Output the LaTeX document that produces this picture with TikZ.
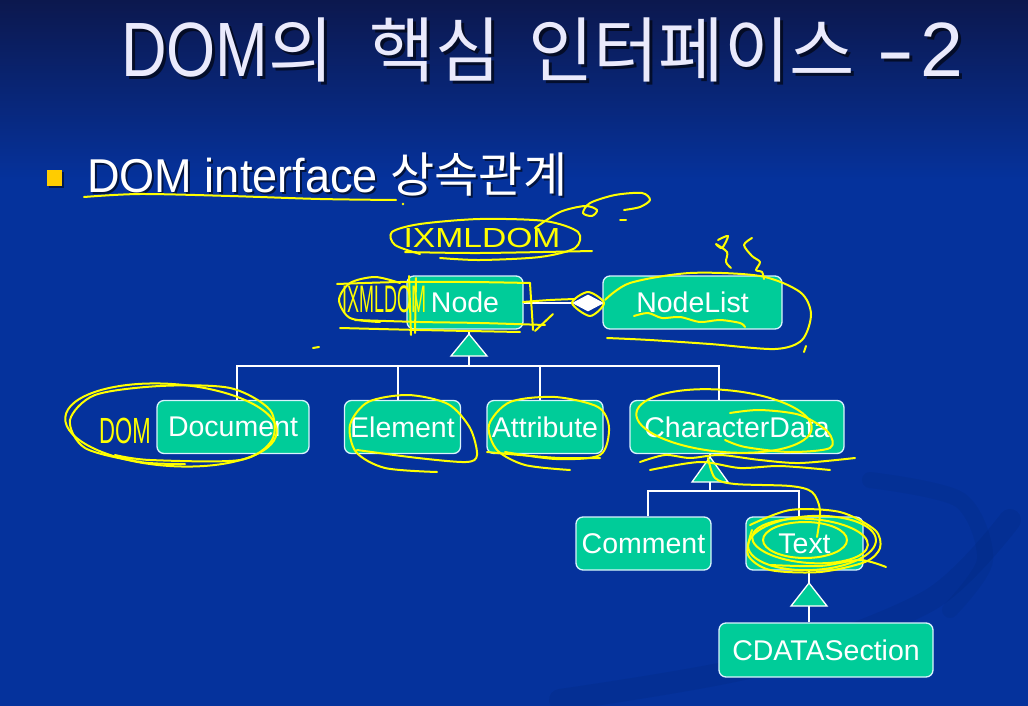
\documentclass[tikz,border=0pt]{standalone}
\usepackage{fontspec}
\setmainfont{Liberation Sans}
\newfontfamily\krfont{Noto Sans CJK KR}
\newfontfamily\narrowsans[FakeStretch=0.82]{Liberation Sans}
\newfontfamily\bulletsans[FakeStretch=0.95]{Liberation Sans}
\usetikzlibrary{shapes.geometric,calc}

\definecolor{bgtop}{RGB}{12,24,78}
\definecolor{bgbody}{RGB}{5,50,156}
\definecolor{boxgreen}{RGB}{0,204,153}
\definecolor{titlecol}{RGB}{234,234,252}
\definecolor{bulletcol}{RGB}{255,204,0}
\definecolor{penyellow}{RGB}{255,255,0}

% title and bullet fonts: narrow Latin, Hangul from Noto Sans CJK
\newcommand{\ttlLat}{\narrowsans\fontsize{77}{80}\selectfont}
\newcommand{\ttlNum}{\rmfamily\fontsize{77}{80}\selectfont}
\newcommand{\ttlKor}{\krfont\fontsize{71}{80}\selectfont}
\newcommand{\bulLat}{\bulletsans\fontsize{47.5}{50}\selectfont}
\newcommand{\bulKor}{\krfont\fontsize{48}{50}\selectfont}
\newcommand{\titletext}{{\ttlLat DOM}{\ttlKor 의 \hspace{20pt}핵심 \hspace{12pt}인터페이스}{\ttlNum\ \scalebox{1.5}[1]{-}\hspace{6pt}2}}
\newcommand{\bullettext}{{\bulLat DOM interface }{\bulKor 상속관계}}

\tikzset{
  cls/.style={draw=white!85!cyan, line width=1.3pt, fill=boxgreen, rounded corners=7pt,
    text=white, font=\fontsize{28.5}{30}\selectfont, inner sep=0pt, minimum height=53pt},
  conn/.style={draw=white, line width=1.3pt},
  inh/.style={draw=white, line width=1.3pt, fill=boxgreen, line join=miter},
  ink/.style={draw=penyellow, line width=2pt, line cap=round, line join=round},
  scrawl/.style={text=penyellow, inner sep=0pt},
  shadowtext/.style={text=black, opacity=0.6, inner sep=0pt},
}

\begin{document}
\begin{tikzpicture}[x=1pt,y=-1pt]
\useasboundingbox (0,0) rectangle (1028,706);

% slide background
\shade[top color=bgtop, bottom color=bgbody] (0,0) rectangle (1028,180);
\fill[bgbody] (0,180) rectangle (1028,706);
\draw[line width=22pt, draw=black, opacity=0.05, line cap=round]
  plot[smooth] coordinates {(560,700) (760,665) (930,600) (1010,520)};
\draw[line width=16pt, draw=black, opacity=0.04, line cap=round]
  plot[smooth] coordinates {(870,480) (960,500) (985,560) (950,610)};

% title
\node[shadowtext, anchor=base west] (titleshadow) at (124,80) {\titletext};
\node[anchor=base west, text=titlecol, inner sep=0pt] (title) at (121,77) {\titletext};

% bullet line
\fill[black, opacity=0.5] (49,172) rectangle (64,188);
\fill[bulletcol] (47,170) rectangle (62,186);
\node[shadowtext, anchor=base west] (bulletshadow) at (89,194) {\bullettext};
\node[anchor=base west, text=white, inner sep=0pt] (bullet) at (87,192) {\bullettext};

% interface boxes
\node[cls, minimum width=116pt] (node) at (465,302.5) {Node};
\node[cls, minimum width=179pt] (nodelist) at (692.5,302.5) {NodeList};
\node[cls, minimum width=152pt] (document) at (233,427) {Document};
\node[cls, minimum width=116pt] (element) at (402.5,427) {Element};
\node[cls, minimum width=116pt] (attribute) at (545,427) {Attribute};
\node[cls, minimum width=214pt] (chardata) at (737,427) {CharacterData};
\node[cls, minimum width=135pt] (comment) at (643.5,543.5) {Comment};
\node[cls, minimum width=117pt] (txt) at (804.5,543.5) {Text};
\node[cls, minimum width=214pt, minimum height=54pt] (cdata) at (826,650) {CDATASection};

% Node -- NodeList aggregation
\node[diamond, aspect=2, draw=white, fill=white, line width=1pt, minimum width=30pt,
      minimum height=16pt, inner sep=0pt] (agg) at (588,303) {};
\draw[conn] (node.east |- agg) -- (agg.west);

% inheritance from Node
\coordinate (apexA) at (469,334);
\coordinate (baseA) at (469,356);
\coordinate (barA) at (469,366);
\draw[conn] (apexA) -- (apexA |- node.south);
\filldraw[inh] ($(baseA)+(-18,0)$) -- (apexA) -- ($(baseA)+(18,0)$) -- cycle;
\draw[conn] (baseA) -- (barA);
\draw[conn] ([xshift=4pt]document.north) |- (barA) -| ([xshift=-18pt]chardata.north);
\draw[conn] ([xshift=-4.5pt]element.north) -- ([xshift=-4.5pt]element.north |- barA);
\draw[conn] ([xshift=-5pt]attribute.north) -- ([xshift=-5pt]attribute.north |- barA);

% inheritance from CharacterData
\coordinate (apexB) at (710,457);
\coordinate (baseB) at (710,482);
\coordinate (barB) at (710,491);
\draw[conn] (apexB) -- (apexB |- chardata.south);
\filldraw[inh] ($(baseB)+(-18,0)$) -- (apexB) -- ($(baseB)+(18,0)$) -- cycle;
\draw[conn] (baseB) -- (barB);
\draw[conn] ([xshift=4.5pt]comment.north) |- (barB) -| ([xshift=-5.5pt]txt.north);

% inheritance from Text
\coordinate (apexC) at (809,583);
\coordinate (baseC) at (809,606);
\draw[conn] (apexC) -- (apexC |- txt.south);
\filldraw[inh] ($(baseC)+(-18,0)$) -- (apexC) -- ($(baseC)+(18,0)$) -- cycle;
\draw[conn] (baseC) -- (baseC |- cdata.north);

% ---- yellow pen notes ----
% underline of the bullet
\draw[ink] plot[smooth] coordinates {(84,197) (140,194) (230,196) (320,199) (396,200)};
\fill[penyellow] (403,204) circle (1.3pt);
% loop arrow
\draw[ink] plot[smooth] coordinates {(535,228) (560,212) (585,206) (597,210) (592,216) (583,213) (590,203) (615,195) (642,193) (650,200) (640,207) (624,210)};
\draw[ink] (620,220) -- (626,220);
% IXMLDOM
\draw[ink] plot[smooth] coordinates {(420,254) (395,245) (392,232) (420,224) (480,219) (545,221) (578,232) (575,248) (540,257) (480,260) (440,258)};
\draw[ink] plot[smooth] coordinates {(405,252) (480,253) (592,251)};
\node[scrawl, font=\fontsize{24}{24}\selectfont] (ixmltop) at (482,238) {\scalebox{1.4}[1.15]{IXMLDOM}};
% marks above NodeList
\draw[ink] plot[smooth] coordinates {(718,240) (728,236) (722,248) (716,244) (727,252) (726,262) (731,268)};
\draw[ink] plot[smooth] coordinates {(752,238) (744,245) (752,256) (760,262) (756,270) (762,272) (764,279)};
% NodeList
\draw[ink] plot[smooth] coordinates {(605,300) (630,283) (690,273) (760,276) (800,292) (811,314) (802,340) (775,349) (710,344) (650,340) (607,338)};
\draw[ink] (804,352) -- (806,346);
\draw[ink] plot[smooth] coordinates {(634,316) (648,313) (662,318) (680,317) (700,322) (720,320) (740,323) (745,327)};
% Node
\node[scrawl, font=\fontsize{24}{24}\selectfont] (ixmlleft) at (384,299) {\scalebox{0.75}[1.6]{IXMLDOM}};
\draw[ink] plot[smooth] coordinates {(400,283) (375,277) (350,283) (339,300) (350,318) (380,322)};
\draw[ink] plot[smooth] coordinates {(337,284) (400,282) (470,282) (530,283)};
\draw[ink] (530,283) -- (533,330);
\draw[ink] plot[smooth] coordinates {(355,320) (420,322) (480,323) (545,325)};
\draw[ink] plot[smooth] coordinates {(340,328) (420,330) (520,332)};
\draw[ink] (409,276) -- (411,335);
\draw[ink] (416,278) -- (415,333);
\draw[ink] plot[smooth] coordinates {(523,302) (550,300) (575,299)};
\draw[ink] (553,314) -- (535,331);
\draw[ink] plot[smooth cycle] coordinates {(572,303) (588,292) (604,303) (590,316)};
\draw[ink] (313,348) -- (319,347);
% Document
\draw[ink, rotate around={-4:(171,425)}] (171,425) ellipse [x radius=106, y radius=41];
\draw[ink] plot[smooth] coordinates {(115,455) (150,460) (240,460) (272,440) (270,410) (230,388) (160,386) (95,395) (70,420) (85,448) (140,462) (185,464)};
\node[scrawl, font=\fontsize{26}{26}\selectfont] (domnote) at (125,431) {\scalebox{0.85}[1.4]{DOM}};
% Element
\draw[ink] plot[smooth] coordinates {(437,472) (385,468) (356,452) (350,425) (368,402) (408,395) (448,404) (470,428) (477,455) (466,462) (418,458) (357,450)};
% Attribute
\draw[ink] plot[smooth] coordinates {(570,470) (525,465) (497,450) (489,425) (510,402) (555,397) (598,407) (609,428) (600,455) (556,459) (505,452)};
\draw[ink] plot[smooth] coordinates {(487,452) (520,455) (560,458) (600,458)};
% CharacterData
\draw[ink, rotate around={-5:(724,421)}] (724,421) ellipse [x radius=88, y radius=31];
\draw[ink] plot[smooth] coordinates {(730,413) (760,410) (800,415) (828,432) (830,448) (790,452) (745,447) (725,440)};
\draw[ink] plot[smooth] coordinates {(640,462) (665,455) (690,458) (720,455) (760,460) (800,463) (855,458)};
\draw[ink] plot[smooth] coordinates {(650,470) (700,462) (740,468) (780,466) (830,470)};
\draw[ink] plot[smooth] coordinates {(708,458) (715,478) (735,484) (790,486) (812,492) (820,510) (817,537)};
% Text
\draw[ink, rotate around={3:(812,543)}] (812,543) ellipse [x radius=64, y radius=27];
\draw[ink, rotate around={-4:(810,541)}] (810,541) ellipse [x radius=58, y radius=22];
\draw[ink] (805,540) ellipse [x radius=42, y radius=18];
\draw[ink] plot[smooth] coordinates {(750,525) (790,510) (840,512) (875,530) (880,548) (865,562) (820,572) (770,570) (748,555) (752,530)};
\draw[ink] plot[smooth] coordinates {(770,565) (820,566) (860,560) (886,567)};
\end{tikzpicture}
\end{document}
